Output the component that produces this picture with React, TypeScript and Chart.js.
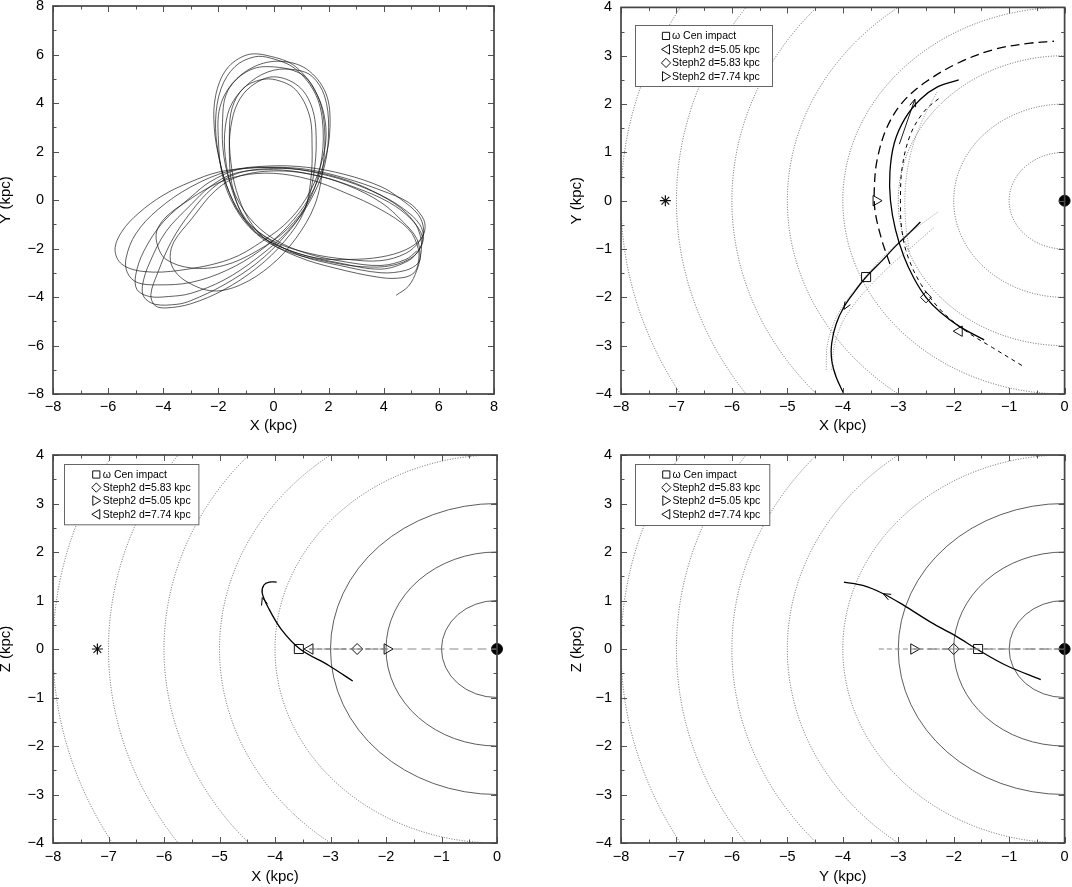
import React, { useEffect, useRef } from 'react';
import { Chart, registerables } from 'chart.js';

Chart.register(...registerables);
Chart.defaults.font.family = "'Liberation Sans', Arial, sans-serif";
Chart.defaults.color = '#000';

type Pt = [number, number];

// ---------------- DATA ----------------
// Panel 1: rosette orbit (X, Y in kpc), traced cycle by cycle
const orbitCycle1: Pt[] = [[4.45,-3.93],[4.9,-3.55],[5.2,-2.9],[5.35,-2.2],[5.35,-1.6],[5.1,-0.9],[4.4,-0.15],[3.3,0.5],[2.0,1.0],[0.6,1.3],[-0.8,1.32],[-2.0,1.15],[-3.0,0.75],[-4.0,0.2],[-4.9,-0.55],[-5.5,-1.3],[-5.75,-2.05],[-5.5,-2.65],[-4.7,-2.95],[-3.4,-2.9],[-1.6,-2.45],[-0.4,-1.7],[0.6,-0.8],[1.35,0.4],[1.8,1.8],[1.9,3.0],[1.6,4.3],[0.8,5.5],[-0.2,5.95],[-0.97,5.98],[-1.7,5.4],[-2.1,4.3],[-2.15,3.0],[-1.95,1.6],[-1.6,0.3],[-1.0,-0.85],[0.0,-1.7],[1.3,-2.2],[2.7,-2.45],[3.9,-2.5],[4.8,-2.2],[5.3,-1.7]];
const orbitCycle2: Pt[] = [[5.45,-1.25],[5.25,-0.6],[4.6,0.05],[3.9,0.55],[2.6,1.05],[1.2,1.35],[-0.2,1.4],[-1.6,1.2],[-3.0,0.54],[-4.2,-0.4],[-5.0,-1.4],[-5.35,-2.4],[-5.3,-3.0],[-4.95,-3.4],[-4.2,-3.5],[-3.0,-3.4],[-1.7,-2.9],[-0.5,-2.1],[0.5,-1.1],[1.3,0.1],[1.85,1.6],[2.05,3.0],[1.9,4.4],[1.2,5.4],[0.24,5.72],[-0.7,5.5],[-1.5,4.8],[-1.95,3.8],[-2.0,2.5],[-1.85,1.0],[-1.4,-0.3],[-0.7,-1.3],[0.4,-2.0],[1.6,-2.4],[2.8,-2.45],[3.9,-2.35],[4.8,-2.05],[5.35,-1.6]];
const orbitCycle3: Pt[] = [[5.5,-1.15],[5.4,-0.7],[4.9,-0.1],[3.9,0.4],[2.6,0.9],[1.3,1.25],[0.0,1.35],[-1.3,1.25],[-2.3,0.75],[-3.0,0.12],[-4.0,-0.9],[-4.7,-2.1],[-5.0,-3.1],[-4.95,-3.7],[-4.5,-3.98],[-3.8,-3.98],[-3.0,-3.85],[-1.8,-3.3],[-0.6,-2.4],[0.5,-1.3],[1.3,-0.1],[1.85,1.4],[2.0,3.0],[1.85,4.3],[1.4,5.1],[0.84,5.36],[0.0,5.35],[-0.8,4.9],[-1.5,4.0],[-1.75,3.0],[-1.75,1.8],[-1.5,0.4],[-1.0,-0.8],[-0.2,-1.6],[1.0,-2.3],[2.4,-2.7],[3.9,-3.0],[4.8,-2.9],[5.25,-2.6]];
const orbitCycle4: Pt[] = [[5.32,-2.3],[5.2,-1.6],[4.7,-0.9],[3.9,-0.1],[2.7,0.6],[1.4,1.05],[0.0,1.25],[-1.4,1.1],[-2.3,0.55],[-3.0,-0.2],[-3.9,-1.3],[-4.5,-2.6],[-4.75,-3.5],[-4.7,-4.0],[-4.3,-4.3],[-3.5,-4.3],[-3.0,-4.15],[-1.8,-3.5],[-0.6,-2.6],[0.4,-1.5],[1.15,-0.3],[1.45,1.0],[1.55,2.5],[1.4,3.8],[0.9,4.7],[0.0,5.08],[-0.8,4.7],[-1.3,4.0],[-1.55,3.0],[-1.6,1.8],[-1.5,0.6],[-1.1,-0.7],[-0.4,-1.6],[0.7,-2.2],[2.0,-2.55],[3.2,-2.75],[4.3,-2.7],[5.1,-2.3],[5.43,-1.65]];
const orbitCycle5: Pt[] = [[5.3,-1.0],[4.7,-0.35],[3.9,0.2],[2.7,0.8],[1.3,1.2],[0.0,1.3],[-1.3,1.1],[-2.2,0.5],[-3.0,-0.5],[-3.7,-1.7],[-4.2,-3.0],[-4.45,-3.9],[-4.3,-4.35],[-3.9,-4.45],[-3.0,-4.28],[-1.8,-3.7],[-0.6,-2.8],[0.4,-1.7],[1.1,-0.5],[1.35,0.8],[1.4,2.2],[1.3,3.5],[0.8,4.55],[0.1,4.95],[-0.49,4.95],[-1.1,4.6],[-1.5,3.8],[-1.6,2.8],[-1.55,1.6],[-1.35,0.4],[-0.9,-0.8],[-0.2,-1.7],[0.9,-2.35],[2.2,-2.8],[3.9,-3.2],[4.7,-3.2],[5.1,-3.0]];
const orbitCycle6: Pt[] = [[5.25,-2.6],[5.25,-2.0],[4.9,-1.2],[3.9,-0.4],[2.6,0.3],[1.3,0.85],[0.0,1.1],[-1.2,1.0],[-2.2,0.6],[-3.2,-0.1],[-3.9,-0.7],[-4.24,-1.3],[-4.2,-1.9],[-3.9,-2.45],[-3.0,-2.8],[-1.8,-2.7],[-0.6,-2.1],[0.5,-1.2],[1.3,0.0],[1.7,1.4],[1.8,2.9],[1.55,4.3],[0.8,5.4],[-0.1,5.85],[-0.7,5.9],[-1.4,5.5],[-1.9,4.6],[-2.1,3.3],[-2.0,1.9],[-1.7,0.6],[-1.2,-0.6],[-0.3,-1.6],[0.9,-2.2],[2.4,-2.6],[3.9,-2.85],[4.9,-2.5],[5.3,-2.0]];
const orbitCycle7: Pt[] = [[5.4,-1.5],[5.0,-0.8],[4.2,-0.1],[3.0,0.5],[1.6,1.0],[0.2,1.2],[-1.2,1.0],[-2.1,0.4],[-3.0,-0.82],[-3.6,-1.7],[-3.75,-2.34],[-3.6,-2.9],[-3.1,-3.4],[-2.2,-3.75],[-1.2,-3.5],[-0.1,-2.7],[0.8,-1.6],[1.5,-0.2],[1.8,1.4],[1.85,3.0],[1.6,4.3],[1.0,5.2],[-0.3,5.5],[-1.1,5.2],[-1.7,4.4],[-1.85,3.2],[-1.8,1.8],[-1.5,0.5],[-0.9,-0.7],[0.0,-1.6],[1.2,-2.2],[2.6,-2.55],[3.9,-2.7],[4.8,-2.45],[5.2,-2.1]];

// Contour radii (kpc)
const allContourRadii = [1, 2, 3, 4, 5, 6, 7, 8];
const innerSolidRadii = [1, 2, 3];
const outerDottedRadii = [4, 5, 6, 7, 8];

// Shared markers
const sunPos: Pt[] = [[-7.2, 0]];
const galCenterPos: Pt[] = [[0, 0]];

// Panel 2 (X-Y)
const omegaCenXY: Pt[] = [[-3.98,-4.0],[-4.12,-3.65],[-4.2,-3.3],[-4.2,-2.95],[-4.12,-2.55],[-3.98,-2.2],[-3.8,-1.9],[-3.58,-1.58],[-3.3,-1.25],[-3.03,-0.92],[-2.8,-0.67],[-2.6,-0.44]];
const omegaCenBandAXY: Pt[] = [[-4.3,-3.5],[-4.28,-3.0],[-4.15,-2.5],[-3.95,-2.1],[-3.65,-1.65],[-3.3,-1.2],[-2.85,-0.72],[-2.27,-0.22]];
const omegaCenBandBXY: Pt[] = [[-4.2,-3.5],[-4.15,-3.0],[-4.0,-2.5],[-3.8,-2.15],[-3.5,-1.75],[-3.15,-1.35],[-2.75,-0.95],[-2.35,-0.55]];
const steph2SolidXY: Pt[] = [[-1.45,-2.88],[-1.9,-2.6],[-2.25,-2.3],[-2.5,-2.0],[-2.72,-1.6],[-2.9,-1.15],[-3.05,-0.6],[-3.14,0.0],[-3.15,0.6],[-3.07,1.2],[-2.88,1.7],[-2.6,2.1],[-2.3,2.35],[-1.91,2.5]];
const steph2LongDashXY: Pt[] = [[-3.15,-1.31],[-3.3,-0.8],[-3.42,-0.2],[-3.43,0.3],[-3.38,0.85],[-3.21,1.5],[-2.92,2.04],[-2.5,2.46],[-1.9,2.86],[-1.24,3.14],[-0.62,3.26],[-0.19,3.3]];
const steph2ShortDashXY: Pt[] = [[-0.77,-3.41],[-1.3,-3.04],[-1.79,-2.69],[-2.22,-2.28],[-2.59,-1.73],[-2.84,-1.11],[-2.94,-0.56],[-2.96,0.0],[-2.93,0.68],[-2.78,1.37],[-2.53,1.85],[-2.22,2.16]];
const steph2DottedXY: Pt[] = [[-2.8,-1.05],[-2.87,-0.4],[-2.87,0.3],[-2.77,1.0],[-2.57,1.65],[-2.3,2.25]];
const steph2ArrowLineXY: Pt[] = [[-2.98,1.17],[-2.7,2.1]];
const impactXY: Pt[] = [[-3.58,-1.58]];
const d583XY: Pt[] = [[-2.5,-2.0]];
const d505XY: Pt[] = [[-1.9,-2.7]];
const d774XY: Pt[] = [[-3.4,0.0]];
const arrowsXY: number[][] = [[-3.85,-2.0,-3.98,-2.25],[-2.78,1.8,-2.7,2.1]];

// Panel 3 (X-Z)
const omegaCenXZ: Pt[] = [[-2.6,-0.66],[-3.03,-0.34],[-3.55,0.0],[-3.89,0.41],[-4.12,0.85],[-4.23,1.15],[-4.2,1.32],[-4.1,1.38],[-3.97,1.38]];
const steph2LineXZ: Pt[] = [[-3.38,0],[0,0]];
const steph2InnerXZ: Pt[] = [[-3.38,0],[-1.98,0]];
const impactXZ: Pt[] = [[-3.57,0]];
const d774XZ: Pt[] = [[-3.37,0]];
const d583XZ: Pt[] = [[-2.52,0]];
const d505XZ: Pt[] = [[-1.98,0]];
const arrowsXZ: number[][] = [[-4.17,0.85,-4.23,1.06]];

// Panel 4 (Y-Z)
const omegaCenYZ: Pt[] = [[-3.98,1.38],[-3.64,1.31],[-3.27,1.14],[-2.9,0.9],[-2.41,0.55],[-1.98,0.28],[-1.54,-0.03],[-1.05,-0.34],[-0.43,-0.63]];
const steph2LineYZ: Pt[] = [[-3.35,0],[0,0]];
const steph2InnerYZ: Pt[] = [[-2.72,0],[0,0]];
const d505YZ: Pt[] = [[-2.72,0]];
const d583YZ: Pt[] = [[-2.0,0]];
const impactYZ: Pt[] = [[-1.56,0]];
const arrowsYZ: number[][] = [[-3.0,0.98,-3.27,1.14]];

// Legends
const legendLabelsXY = ['\u03c9 Cen impact', 'Steph2 d=5.05 kpc', 'Steph2 d=5.83 kpc', 'Steph2 d=7.74 kpc'];
const legendShapesXY = ['square', 'triLeft', 'diamond', 'triRight'];
const legendLabelsZ = ['\u03c9 Cen impact', 'Steph2 d=5.83 kpc', 'Steph2 d=5.05 kpc', 'Steph2 d=7.74 kpc'];
const legendShapesZ = ['square', 'diamond', 'triRight', 'triLeft'];

// ---------------- HELPERS ----------------
const toXY = (pts: Pt[]) => pts.map(([x, y]) => ({ x, y }));

function lineDS(pts: Pt[], color: string, width: number, dash: number[] = [], tension = 0.35) {
  return {
    data: toXY(pts), showLine: true, pointRadius: 0, pointHoverRadius: 0, borderColor: color,
    borderWidth: width, borderDash: dash, tension, fill: false,
  };
}
function markerDS(pts: Pt[], style: string, radius: number, rotation = 0, fillColor = 'rgba(0,0,0,0)', extra: any = {}) {
  return {
    data: toXY(pts), showLine: false, pointStyle: style, pointRadius: radius, pointHoverRadius: radius,
    pointRotation: rotation, pointBorderColor: '#111', pointBackgroundColor: fillColor, pointBorderWidth: 1,
    borderColor: '#111', backgroundColor: fillColor, ...extra,
  };
}

function drawShape(ctx: CanvasRenderingContext2D, shape: string, x: number, y: number) {
  ctx.beginPath();
  if (shape === 'square') {
    ctx.rect(x - 3.6, y - 3.6, 7.2, 7.2);
  } else if (shape === 'diamond') {
    ctx.moveTo(x, y - 4.6); ctx.lineTo(x + 4.6, y); ctx.lineTo(x, y + 4.6); ctx.lineTo(x - 4.6, y); ctx.closePath();
  } else if (shape === 'triLeft') {
    ctx.moveTo(x - 4.5, y); ctx.lineTo(x + 3.5, y - 4.8); ctx.lineTo(x + 3.5, y + 4.8); ctx.closePath();
  } else {
    ctx.moveTo(x + 4.5, y); ctx.lineTo(x - 3.5, y - 4.8); ctx.lineTo(x - 3.5, y + 4.8); ctx.closePath();
  }
  ctx.stroke();
}

function contourPlugin(groups: any[]) {
  return {
    id: 'contours',
    beforeDatasetsDraw(chart: any) {
      if (!groups.length) return;
      const { ctx, chartArea: a, scales: { x, y } } = chart;
      ctx.save();
      ctx.beginPath(); ctx.rect(a.left, a.top, a.right - a.left, a.bottom - a.top); ctx.clip();
      const cx = x.getPixelForValue(0), cy = y.getPixelForValue(0);
      for (const g of groups) {
        ctx.strokeStyle = g.color; ctx.lineWidth = g.width; ctx.setLineDash(g.dash);
        for (const r of g.radii) {
          const rx = Math.abs(x.getPixelForValue(r) - cx);
          const ry = Math.abs(y.getPixelForValue(r) - cy);
          ctx.beginPath(); ctx.ellipse(cx, cy, rx, ry, 0, 0, Math.PI * 2); ctx.stroke();
        }
      }
      ctx.restore();
    },
  };
}

function arrowPlugin(arrows: number[][]) {
  return {
    id: 'arrowHeads',
    afterDatasetsDraw(chart: any) {
      const { ctx, scales: { x, y } } = chart;
      ctx.save(); ctx.strokeStyle = '#000'; ctx.lineWidth = 1; ctx.setLineDash([]);
      for (const [fx, fy, tx, ty] of arrows) {
        const x1 = x.getPixelForValue(fx), y1 = y.getPixelForValue(fy);
        const x2 = x.getPixelForValue(tx), y2 = y.getPixelForValue(ty);
        const ang = Math.atan2(y2 - y1, x2 - x1), L = 8, s = 0.4;
        ctx.beginPath();
        ctx.moveTo(x2 - L * Math.cos(ang - s), y2 - L * Math.sin(ang - s));
        ctx.lineTo(x2, y2);
        ctx.lineTo(x2 - L * Math.cos(ang + s), y2 - L * Math.sin(ang + s));
        ctx.stroke();
      }
      ctx.restore();
    },
  };
}

function legendPlugin(spec: any) {
  return {
    id: 'boxLegend',
    afterDatasetsDraw(chart: any) {
      if (!spec) return;
      const { ctx, chartArea: a } = chart;
      ctx.save();
      const L = Math.round(a.left + spec.left) + 0.5, T = Math.round(a.top + spec.top) + 0.5;
      ctx.fillStyle = '#fff'; ctx.fillRect(L, T, spec.width, spec.height);
      ctx.strokeStyle = '#666'; ctx.lineWidth = 1; ctx.setLineDash([]);
      ctx.strokeRect(L, T, spec.width, spec.height);
      ctx.font = "10.5px 'Liberation Sans', Arial, sans-serif";
      ctx.textBaseline = 'middle'; ctx.textAlign = 'left';
      spec.labels.forEach((label: string, i: number) => {
        const yy = a.top + spec.rowY[i];
        ctx.strokeStyle = '#111'; ctx.lineWidth = 1;
        drawShape(ctx, spec.shapes[i], a.left + spec.markerX, yy);
        ctx.fillStyle = '#000';
        ctx.fillText(label, a.left + spec.textX, yy + 0.5);
      });
      ctx.restore();
    },
  };
}

function framePlugin() {
  return {
    id: 'frameTicks',
    afterDraw(chart: any) {
      const { ctx, chartArea: a, scales: { x, y } } = chart;
      ctx.save();
      ctx.setLineDash([]);
      ctx.strokeStyle = '#555'; ctx.lineWidth = 1;
      const seg = (x1: number, y1: number, x2: number, y2: number) => { ctx.beginPath(); ctx.moveTo(x1, y1); ctx.lineTo(x2, y2); ctx.stroke(); };
      const withMinor = (vals: number[]) => {
        const out: { v: number; major: boolean }[] = [];
        vals.forEach((v, i) => { out.push({ v, major: true }); if (i < vals.length - 1) out.push({ v: (v + vals[i + 1]) / 2, major: false }); });
        return out;
      };
      withMinor(x.ticks.map((t: any) => t.value)).forEach(({ v, major }) => {
        const p = Math.round(x.getPixelForValue(v)) + 0.5, len = major ? 6 : 3.5;
        seg(p, a.bottom, p, a.bottom - len); seg(p, a.top, p, a.top + len);
      });
      withMinor(y.ticks.map((t: any) => t.value)).forEach(({ v, major }) => {
        const p = Math.round(y.getPixelForValue(v)) + 0.5, len = major ? 6 : 3.5;
        seg(a.left, p, a.left + len, p); seg(a.right, p, a.right - len, p);
      });
      ctx.strokeStyle = '#444'; ctx.lineWidth = 1.7;
      ctx.strokeRect(a.left, a.top, a.right - a.left, a.bottom - a.top);
      ctx.restore();
    },
  };
}

const minusFmt = (v: any) => { const n = Number(v); return (n < 0 ? '\u2212' : '') + Math.abs(n); };

function buildConfig(p: any) {
  const axisFont = { size: 14.5 };
  const titleFont = { size: 15 };
  return {
    type: 'scatter',
    data: { datasets: p.datasets },
    options: {
      animation: false, responsive: false, events: [],
      layout: { padding: { top: p.padTop, right: p.padRight, left: 0, bottom: 0 } },
      plugins: { legend: { display: false }, tooltip: { enabled: false } },
      scales: {
        x: {
          type: 'linear', min: p.xMin, max: p.xMax,
          ticks: { stepSize: p.xStep, callback: minusFmt, font: axisFont, padding: p.xLabelPad, maxRotation: 0, autoSkip: false, color: '#000' },
          grid: { display: false, drawTicks: false }, border: { display: false },
          title: { display: true, text: p.xTitle, font: titleFont, color: '#000', padding: { top: 0, bottom: p.xTitlePad } },
          afterFit: (s: any) => { s.height = p.xAxisHeight; s.paddingLeft = 0; s.paddingRight = 0; },
        },
        y: {
          type: 'linear', min: p.yMin, max: p.yMax,
          ticks: { stepSize: p.yStep, callback: minusFmt, font: axisFont, padding: 9, autoSkip: false, color: '#000' },
          grid: { display: false, drawTicks: false }, border: { display: false },
          title: { display: true, text: p.yTitle, font: titleFont, color: '#000', padding: { top: p.yTitlePad, bottom: 0 } },
          afterFit: (s: any) => { s.width = p.yAxisWidth; s.paddingTop = 0; s.paddingBottom = 0; },
        },
      },
    },
    plugins: [contourPlugin(p.contours), arrowPlugin(p.arrows), legendPlugin(p.legend), framePlugin()],
  } as any;
}

const dottedContour = (radii: number[]) => ({ radii, color: '#555', width: 0.9, dash: [1, 1.6] });
const solidContour = (radii: number[]) => ({ radii, color: '#333', width: 0.8, dash: [] as number[] });

const sunDS = () => markerDS(sunPos, 'star', 5.5, 0, 'rgba(0,0,0,0)', { pointBorderWidth: 1.2 });
const gcDS = () => markerDS(galCenterPos, 'circle', 5.5, 0, '#000', { clip: false });

const panels = [
  {
    left: 0, top: 0, w: 536, h: 443, padTop: 6, padRight: 42, yAxisWidth: 53, xAxisHeight: 49,
    xLabelPad: 4, xTitlePad: 8, yTitlePad: -3,
    xMin: -8, xMax: 8, xStep: 2, yMin: -8, yMax: 8, yStep: 2, xTitle: 'X (kpc)', yTitle: 'Y (kpc)',
    contours: [], arrows: [], legend: null,
    datasets: [lineDS([...orbitCycle1, ...orbitCycle2, ...orbitCycle3, ...orbitCycle4, ...orbitCycle5, ...orbitCycle6, ...orbitCycle7], 'rgba(20,20,20,0.9)', 0.75)],
  },
  {
    left: 536, top: 0, w: 536, h: 443, padTop: 6, padRight: 7, yAxisWidth: 85, xAxisHeight: 49,
    xLabelPad: 4, xTitlePad: 8, yTitlePad: 32,
    xMin: -8, xMax: 0, xStep: 1, yMin: -4, yMax: 4, yStep: 1, xTitle: 'X (kpc)', yTitle: 'Y (kpc)',
    contours: [dottedContour(allContourRadii)], arrows: arrowsXY,
    legend: { left: 14, top: 18, width: 137, height: 61, rowY: [28.5, 42, 55.5, 69], markerX: 45, textX: 51, labels: legendLabelsXY, shapes: legendShapesXY },
    datasets: [
      lineDS(omegaCenBandAXY, '#777', 0.8, [1, 1.5]),
      lineDS(omegaCenBandBXY, '#777', 0.8, [1, 1.5]),
      lineDS(steph2DottedXY, '#777', 0.8, [1, 1.5]),
      lineDS(omegaCenXY, '#000', 1.3),
      lineDS(steph2SolidXY, '#000', 1.3),
      lineDS(steph2LongDashXY, '#000', 1.3, [9, 5]),
      lineDS(steph2ShortDashXY, '#000', 1.0, [4, 4]),
      lineDS(steph2ArrowLineXY, '#000', 0.9, [], 0),
      markerDS(impactXY, 'rect', 6.4),
      markerDS(d583XY, 'rectRot', 5.5),
      markerDS(d505XY, 'triangle', 6, -90),
      markerDS(d774XY, 'triangle', 6, 90),
      sunDS(), gcDS(),
    ],
  },
  {
    left: 0, top: 443, w: 536, h: 444, padTop: 12, padRight: 39, yAxisWidth: 53, xAxisHeight: 44,
    xLabelPad: 5, xTitlePad: 1, yTitlePad: -3,
    xMin: -8, xMax: 0, xStep: 1, yMin: -4, yMax: 4, yStep: 1, xTitle: 'X (kpc)', yTitle: 'Z (kpc)',
    contours: [solidContour(innerSolidRadii), dottedContour(outerDottedRadii)], arrows: arrowsXZ,
    legend: { left: 11.4, top: 9.3, width: 134.4, height: 60.3, rowY: [19.5, 32.6, 45.6, 59.3], markerX: 43.3, textX: 49.8, labels: legendLabelsZ, shapes: legendShapesZ },
    datasets: [
      lineDS(steph2LineXZ, '#888', 1.0, [9, 5], 0),
      lineDS(steph2InnerXZ, '#555', 1.0, [5, 3], 0),
      lineDS(omegaCenXZ, '#000', 1.3),
      markerDS(impactXZ, 'rect', 6.4),
      markerDS(d774XZ, 'triangle', 6, -90),
      markerDS(d583XZ, 'rectRot', 5.5),
      markerDS(d505XZ, 'triangle', 6, 90),
      sunDS(), gcDS(),
    ],
  },
  {
    left: 536, top: 443, w: 536, h: 444, padTop: 12, padRight: 7, yAxisWidth: 85, xAxisHeight: 44,
    xLabelPad: 5, xTitlePad: 1, yTitlePad: 32,
    xMin: -8, xMax: 0, xStep: 1, yMin: -4, yMax: 4, yStep: 1, xTitle: 'Y (kpc)', yTitle: 'Z (kpc)',
    contours: [solidContour(innerSolidRadii), dottedContour(outerDottedRadii)], arrows: arrowsYZ,
    legend: { left: 13.7, top: 8.6, width: 134.3, height: 61, rowY: [19.5, 32.6, 45.6, 59.3], markerX: 45.3, textX: 51.4, labels: legendLabelsZ, shapes: legendShapesZ },
    datasets: [
      lineDS(steph2LineYZ, '#888', 1.0, [5, 3], 0),
      lineDS(steph2InnerYZ, '#666', 1.1, [9, 5], 0),
      lineDS(omegaCenYZ, '#000', 1.3),
      markerDS(d505YZ, 'triangle', 6, 90),
      markerDS(d583YZ, 'rectRot', 5.5),
      markerDS(impactYZ, 'rect', 6.4),
      gcDS(),
    ],
  },
];

function Panel({ spec }: { spec: any }) {
  const ref = useRef<HTMLCanvasElement>(null);
  useEffect(() => {
    if (!ref.current) return;
    const chart = new Chart(ref.current, buildConfig(spec));
    return () => chart.destroy();
  }, [spec]);
  return (
    <canvas
      ref={ref}
      width={spec.w}
      height={spec.h}
      style={{ position: 'absolute', left: spec.left, top: spec.top, width: spec.w, height: spec.h }}
    />
  );
}

export default function App() {
  return (
    <div style={{ position: 'absolute', left: 0, top: 0, width: 1072, height: 887, background: '#fff', overflow: 'hidden' }}>
      {panels.map((p, i) => <Panel key={i} spec={p} />)}
    </div>
  );
}
